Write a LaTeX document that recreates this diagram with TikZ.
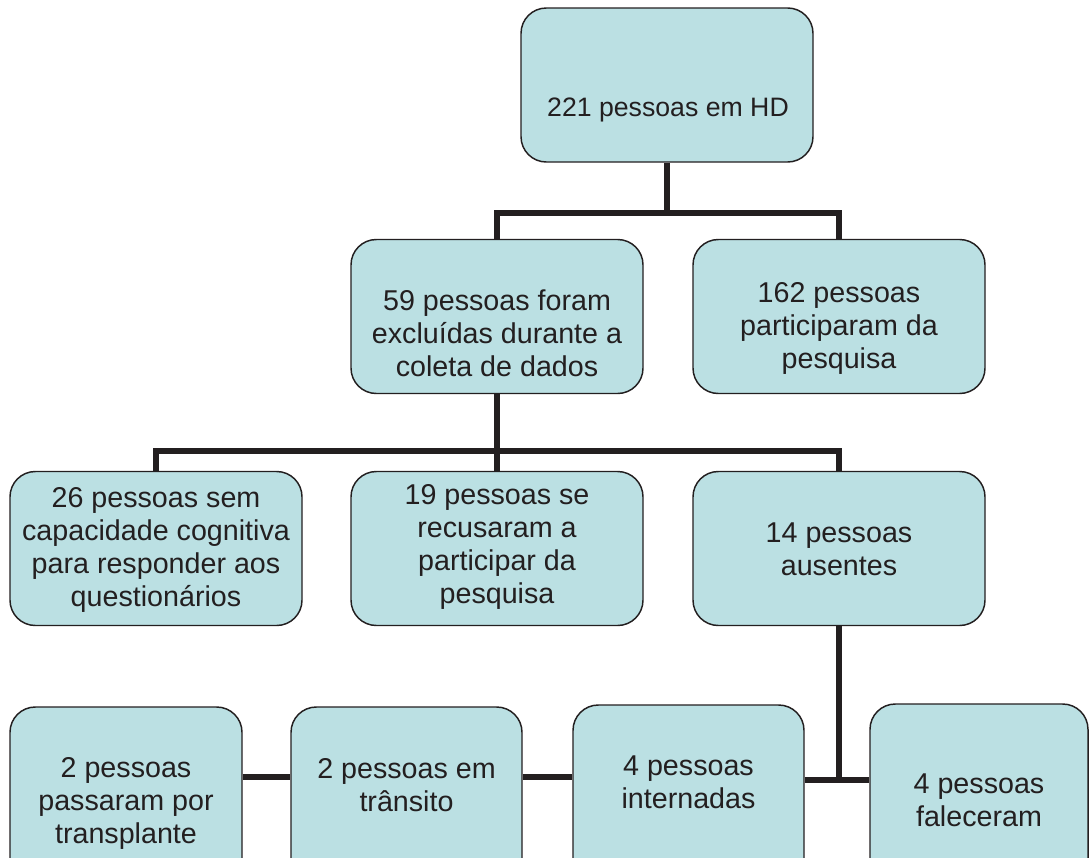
\documentclass[tikz,border=0pt]{standalone}
\usepackage{fontspec}
\setmainfont{Liberation Sans}
\usetikzlibrary{positioning}

\definecolor{boxfill}{HTML}{BBE0E3}
\definecolor{inkdark}{HTML}{231F20}

\tikzset{
    box/.style={draw=inkdark, line width=1.1pt, fill=boxfill, rounded corners=19pt,
        inner sep=0pt, minimum width=219pt, minimum height=115.5pt},
    txt/.style={align=center, text=inkdark, inner sep=0pt,
        font=\fontsize{21.5}{24.75}\selectfont},
    conn/.style={draw=inkdark, line width=3.9pt}
}

\begin{document}
\begin{tikzpicture}[x=0.75pt, y=-0.75pt]
                    \useasboundingbox (0,0) rectangle (1091,857);
                    \clip (0,0) rectangle (1091,857);
                    % boxes
                    \node[box] (hd) at (667,85) {};
                    \node[box] (excl) at (497,316.5) {};
                    \node[box] (part) at (839,316.5) {};
                    \node[box] (semcap) at (156,548.5) {};
                    \node[box] (recus) at (497,548.5) {};
                    \node[box] (ausent) at (839,548.5) {};
                    \node[box, minimum width=174pt, minimum height=144pt] (trans) at (126,803) {};
                    \node[box, minimum width=173.25pt, minimum height=144pt] (transito) at (406.5,803) {};
                    \node[box, minimum width=173.25pt, minimum height=144pt] (intern) at (688.5,801) {};
                    \node[box, minimum width=163.5pt, minimum height=144pt] (falec) at (979,800) {};
                    % texts
                    \node[txt, font=\fontsize{20}{24}\selectfont] (hdtxt) at (668,110) {221 pessoas em HD};
                    \node[txt] (excltxt) at (497,333) {59 pessoas foram\\excluídas durante a\\coleta de dados};
                    \node[txt] (parttxt) at (839,328) {162 pessoas\\participaram da\\pesquisa};
                    \node[txt] (semcaptxt) at (156,550) {26 pessoas sem\\capacidade cognitiva\\para responder aos\\questionários};
                    \node[txt] (recustxt) at (497,547) {19 pessoas se\\recusaram a\\participar da\\pesquisa};
                    \node[txt] (ausenttxt) at (839,549) {14 pessoas\\ausentes};
                    \node[txt] (transtxt) at (126,803) {2 pessoas\\passaram por\\transplante};
                    \node[txt] (transitotxt) at (406.5,785) {2 pessoas em\\trânsito};
                    \node[txt] (interntxt) at (688.5,782) {4 pessoas\\internadas};
                    \node[txt] (falectxt) at (979,800) {4 pessoas\\faleceram};
                    % connectors
                    \coordinate (j1) at (667,213);
                    \coordinate (j2) at (497,451);
                    \coordinate (j3) at (839,780);
                    \coordinate (j4) at (0,777);
                    \draw[conn] (hd.south) -- (j1);
                    \draw[conn] (excl.north) |- (j1) -| (part.north);
                    \draw[conn] (excl.south) -- (j2);
                    \draw[conn] (semcap.north) |- (j2) -| (ausent.north);
                    \draw[conn] (recus.north) -- (j2);
                    \draw[conn] (ausent.south) -- (j3);
                    \draw[conn] (intern.east |- j3) -- (falec.west |- j3);
                    \draw[conn] (trans.east |- j4) -- (transito.west |- j4);
                    \draw[conn] (transito.east |- j4) -- (intern.west |- j4);
                \end{tikzpicture}
\end{document}
